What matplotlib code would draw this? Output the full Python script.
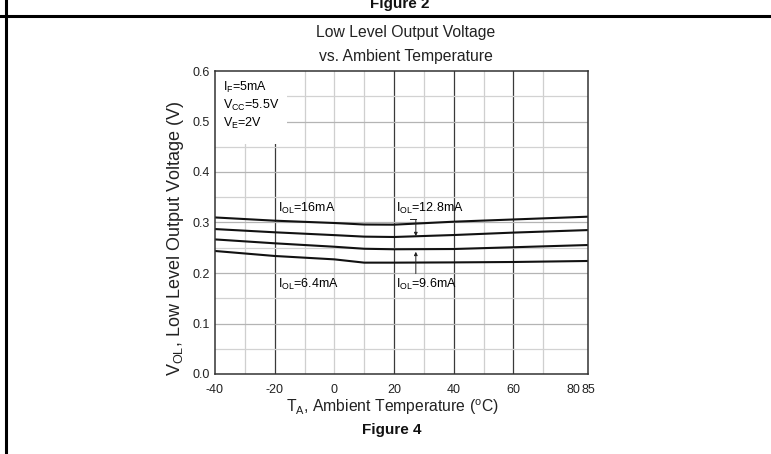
import matplotlib
matplotlib.use('Agg')
import matplotlib.pyplot as plt
from matplotlib.patches import Rectangle

plt.rcParams['font.family'] = ['Liberation Sans', 'DejaVu Sans']
plt.rcParams['mathtext.default'] = 'regular'

# data
temps = [-40, -20, 0, 10, 20, 40, 60, 85]
v_16 = [0.310, 0.3036, 0.299, 0.296, 0.2957, 0.3016, 0.306, 0.3115]
v_128 = [0.287, 0.2806, 0.275, 0.272, 0.2713, 0.2752, 0.280, 0.285]
v_96 = [0.2665, 0.2588, 0.252, 0.248, 0.247, 0.2475, 0.251, 0.2554]
v_64 = [0.2436, 0.2337, 0.227, 0.2205, 0.2205, 0.221, 0.2218, 0.2238]
xticks = [-40, -20, 0, 20, 40, 60, 80, 85]
xtick_labels = ['-40', '-20', '0', '20', '40', '60', '80', '85']
yticks = [0.0, 0.1, 0.2, 0.3, 0.4, 0.5, 0.6]

W, H = 771, 454
fig = plt.figure(figsize=(W / 100, H / 100), dpi=100)
ax = fig.add_axes([215 / W, 1 - 374 / H, 373 / W, 303 / H])
ax.set_xlim(-40, 85)
ax.set_ylim(0, 0.6)

# grid
for x in range(-30, 80, 10):
    if x in (-20, 20, 40, 60):
        ax.axvline(x, color='#3a3a3a', lw=0.9, zorder=1)
    else:
        ax.axvline(x, color='#cfcfcf', lw=0.9, zorder=1)
for k in range(1, 12):
    y = k * 0.05
    c = '#b4b4b4' if k % 2 == 0 else '#d2d2d2'
    ax.axhline(y, color=c, lw=0.9, zorder=1)

# blank area behind conditions text
ax.add_patch(Rectangle((-40, 0.456), 24, 0.15, facecolor='white', edgecolor='none', zorder=2))

for v in (v_16, v_128, v_96, v_64):
    ax.plot(temps, v, color='#111111', lw=1.5, zorder=4)

ax.set_xticks(xticks)
ax.set_xticklabels(xtick_labels)
ax.set_yticks(yticks)
ax.set_yticklabels(['%.1f' % y for y in yticks])
ax.tick_params(length=0, labelsize=9, pad=4, colors='#222222')
ax.tick_params(axis='x', pad=7)
for s in ax.spines.values():
    s.set_color('#333333')
    s.set_linewidth(1.1)
    s.set_zorder(5)

fs = 9
ax.text(-37.3, 0.561, 'I$_F$=5mA', fontsize=fs, va='baseline', zorder=6)
ax.text(-37.3, 0.525, 'V$_{CC}$=5.5V', fontsize=fs, va='baseline', zorder=6)
ax.text(-37.3, 0.489, 'V$_E$=2V', fontsize=fs, va='baseline', zorder=6)

ax.text(-19, 0.321, 'I$_{OL}$=16mA', fontsize=fs, va='baseline', zorder=6)
ax.text(20.7, 0.321, 'I$_{OL}$=12.8mA', fontsize=fs, va='baseline', zorder=6)
ax.text(-19, 0.170, 'I$_{OL}$=6.4mA', fontsize=fs, va='baseline', zorder=6)
ax.text(20.7, 0.170, 'I$_{OL}$=9.6mA', fontsize=fs, va='baseline', zorder=6)

ax.plot([25.5, 27.3], [0.306, 0.306], color='#222222', lw=0.7, zorder=6)
ax.annotate('', xy=(27.3, 0.273), xytext=(27.3, 0.306),
            arrowprops=dict(arrowstyle='-|>', color='#222222', lw=0.7,
                            mutation_scale=5, shrinkA=0, shrinkB=0), zorder=6)
ax.annotate('', xy=(27.3, 0.242), xytext=(27.3, 0.199),
            arrowprops=dict(arrowstyle='-|>', color='#222222', lw=0.7,
                            mutation_scale=5, shrinkA=0, shrinkB=0), zorder=6)

# titles and labels
fig.text(406 / W, 1 - 32 / H, 'Low Level Output Voltage', fontsize=11.3,
         ha='center', va='center', color='#222222')
fig.text(406 / W, 1 - 56 / H, 'vs. Ambient Temperature', fontsize=11.3,
         ha='center', va='center', color='#222222')
fig.text(392 / W, 1 - 407 / H, 'T$_A$, Ambient Temperature ($^o$C)', fontsize=11.3,
         ha='center', va='center', color='#222222')
fig.text(176 / W, 1 - 238 / H, 'V$_{OL}$, Low Level Output Voltage (V)', fontsize=13,
         ha='center', va='center', rotation=90, color='#222222')
fig.text(392 / W, 1 - 430 / H, 'Figure 4', fontsize=11, fontweight='bold',
         ha='center', va='center', color='#111111')
fig.text(400 / W, 1 - 4 / H, 'Figure 2', fontsize=11, fontweight='bold',
         ha='center', va='center', color='#111111')

# page frame lines
fig.add_artist(plt.Line2D([0, 1], [1 - 16 / H, 1 - 16 / H], color='black', lw=2.2))
fig.add_artist(plt.Line2D([6 / W, 6 / W], [0, 1], color='black', lw=2.2))

fig.savefig('out.png', dpi=100)
